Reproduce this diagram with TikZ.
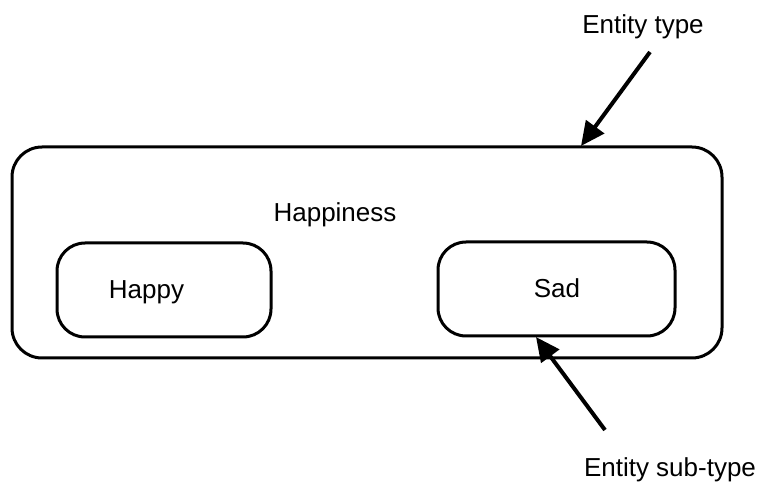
\documentclass[tikz,border=0pt]{standalone}
\usepackage{fontspec}
\setmainfont{Liberation Sans}
\usepackage{tikz}
\usetikzlibrary{arrows.meta, positioning}
\tikzstyle{entity} = [rectangle, rounded corners=15pt, draw=black, line width=1.5pt]
\tikzstyle{subentity} = [rectangle, rounded corners=14pt, draw=black, line width=1.5pt, minimum height=47pt]
\tikzstyle{caption} = [font=\fontsize{13pt}{15pt}\selectfont, inner sep=0pt]
\tikzstyle{pointer} = [-{Triangle[length=12pt, width=11pt]}, line width=2pt]

\begin{document}
\begin{tikzpicture}[x=0.5pt, y=-0.5pt]
\useasboundingbox (0,0) rectangle (768,492);
\node (outer) [entity, minimum width=355pt, minimum height=105.5pt] at (367,252.5) {};
\node (happy) [subentity, minimum width=107pt] at (164,290) {};
\node (sad) [subentity, minimum width=118.5pt] at (556.5,289) {};
\node (title) [caption] at (335,215) {Happiness};
\node (happytxt) [caption, right=26.5pt of happy.west, yshift=-1pt] {Happy};
\node (sadtxt) [caption] at (557,288) {Sad};
\node (etype) [caption] at (643,27) {Entity type};
\node (esub) [caption] at (670,470) {Entity sub-type};
\coordinate (typetail) at (650,52);
\coordinate (typetip) at (581,146);
\coordinate (subtail) at (605,430);
\coordinate (subtip) at (536,337);
\draw [pointer] (typetail) -- (typetip);
\draw [pointer] (subtail) -- (subtip);
\end{tikzpicture}
\end{document}
